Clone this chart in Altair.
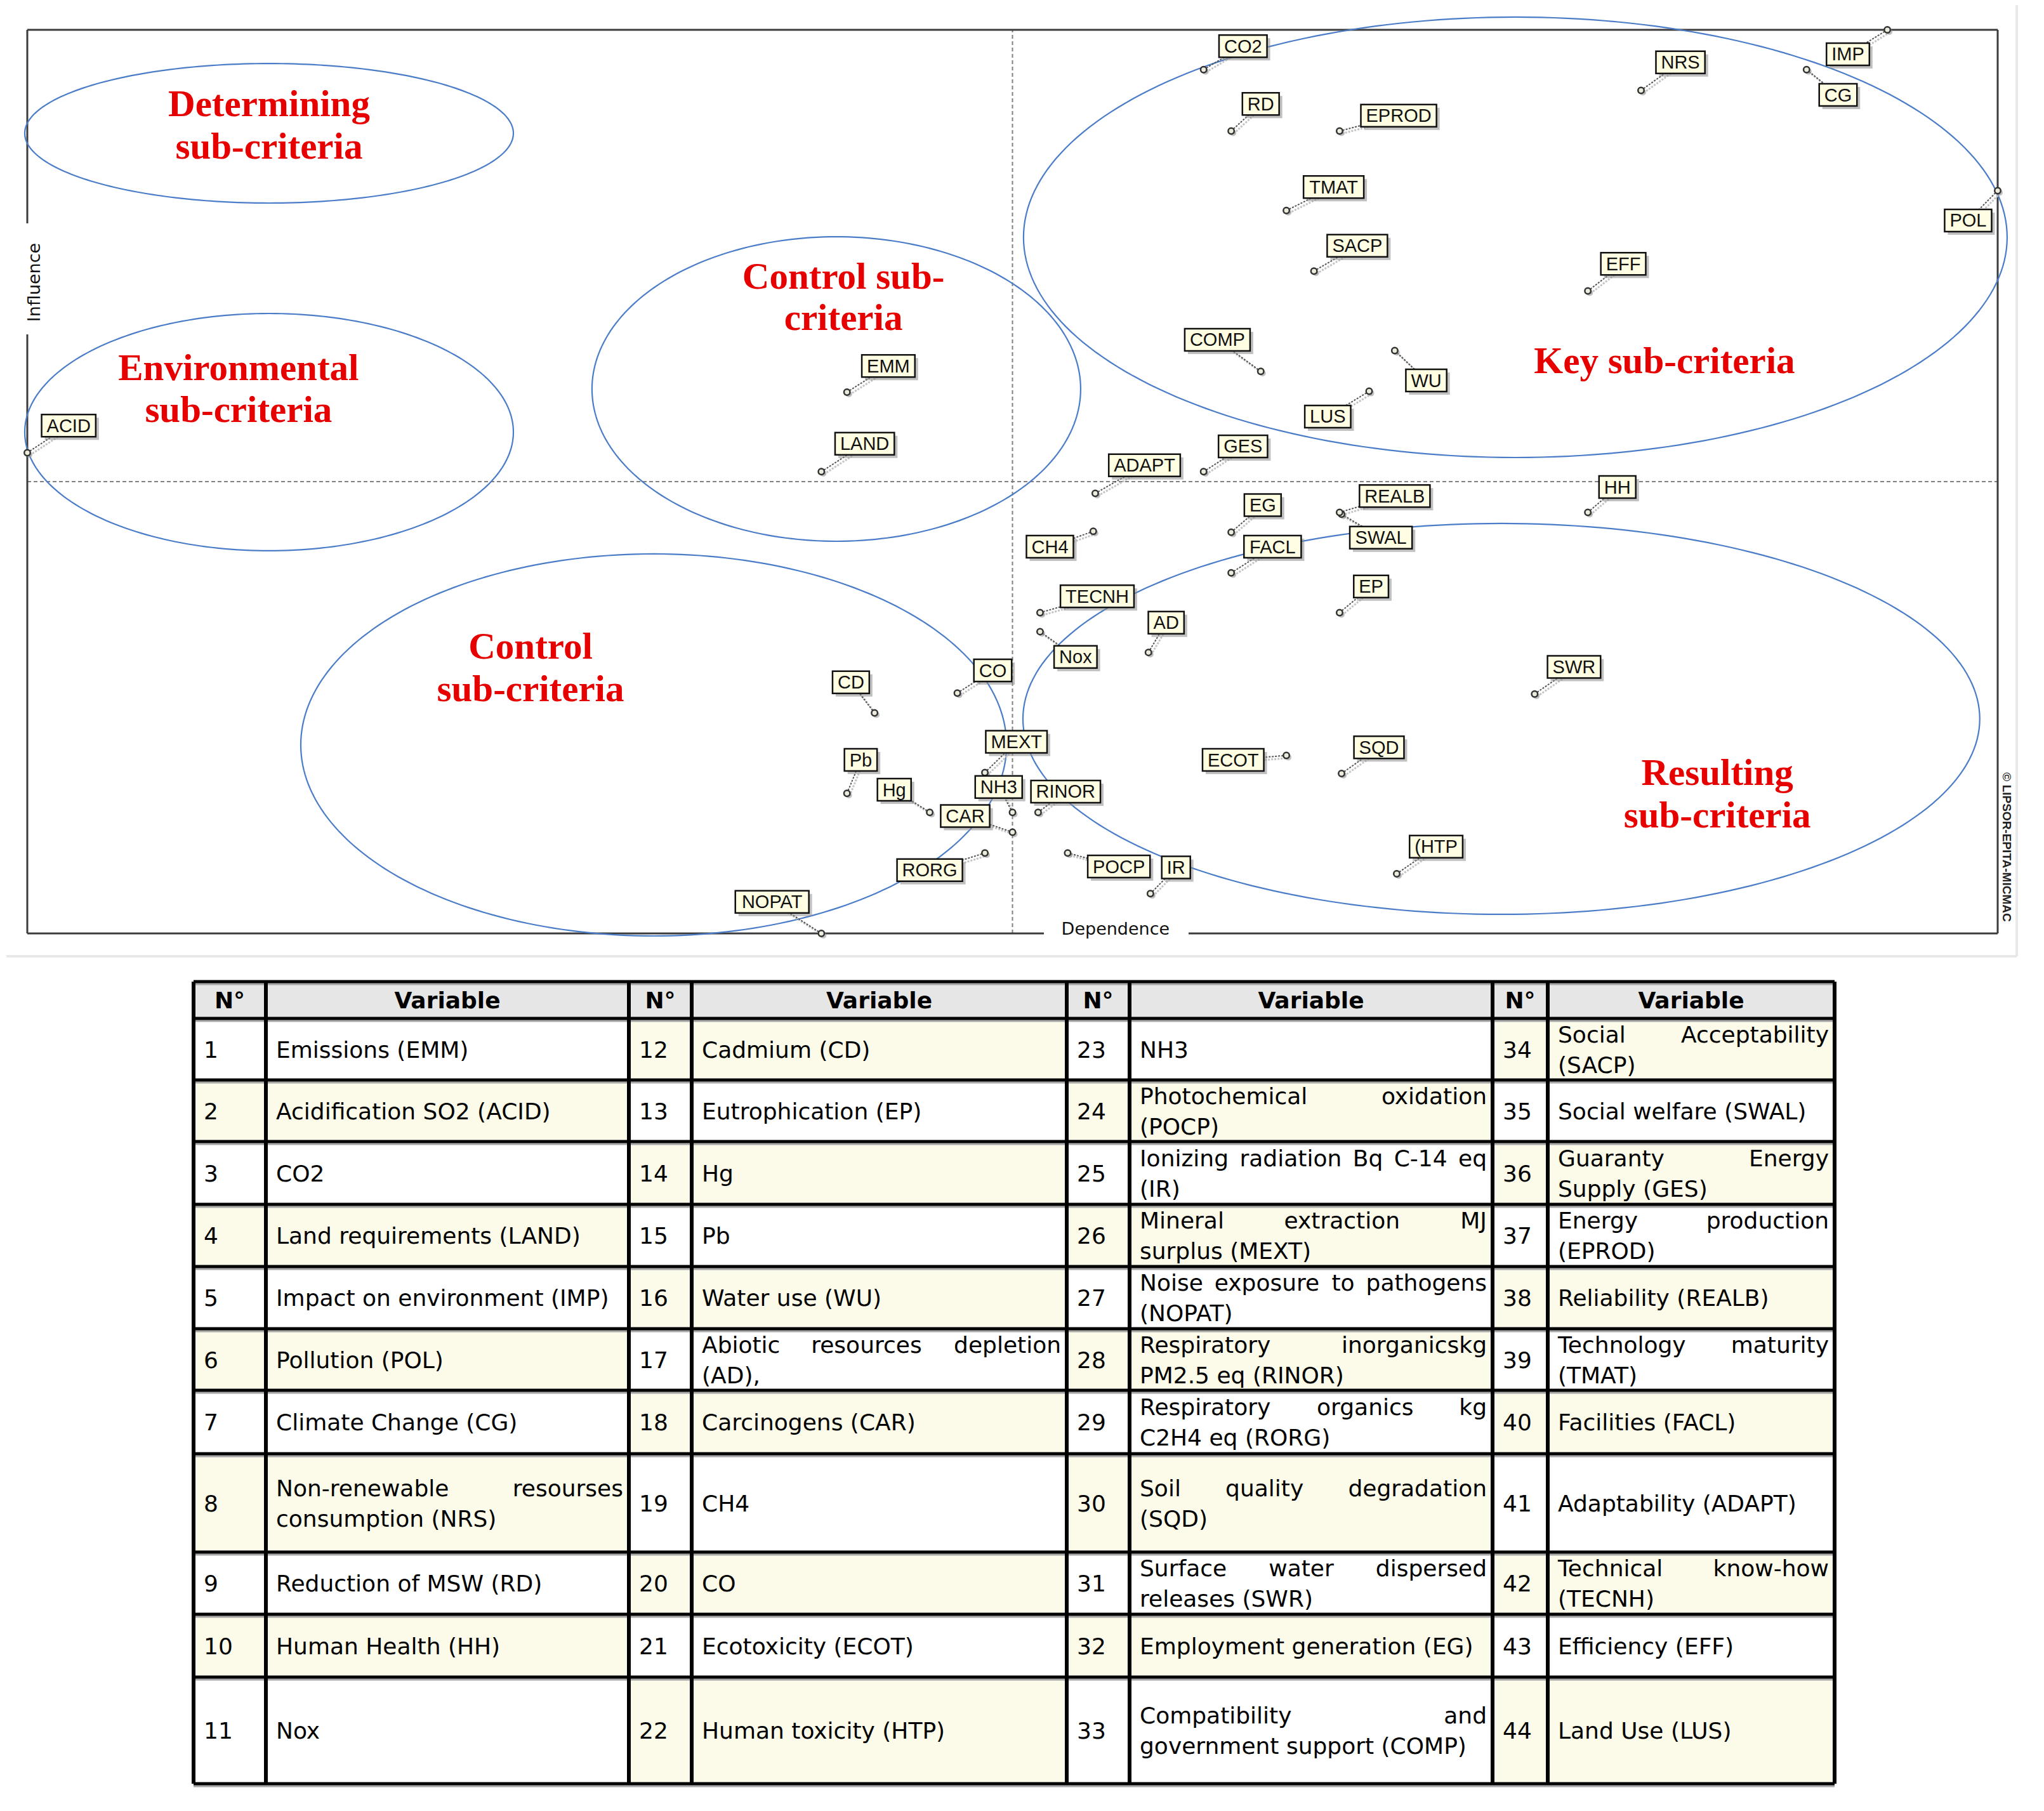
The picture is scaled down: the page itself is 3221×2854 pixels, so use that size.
import altair as alt
import numpy as np
import pandas as pd

# ---------------- MICMAC map data (0-100 scale) ----------------
codes = ["EMM", "ACID", "CO2", "LAND", "IMP", "POL", "CG", "NRS", "RD", "HH", "Nox",
         "CD", "EP", "Hg", "Pb", "WU", "AD", "CAR", "CH4", "CO", "ECOT", "(HTP",
         "NH3", "POCP", "IR", "MEXT", "NOPAT", "RINOR", "RORG", "SQD", "SWR", "EG", "COMP",
         "SACP", "SWAL", "GES", "EPROD", "REALB", "TMAT", "FACL", "ADAPT", "TECNH", "EFF", "LUS"]
dependence = [41.6, 0.0, 59.7, 40.3, 94.4, 100.0, 90.3, 81.9, 61.1, 79.2, 51.4,
              43.0, 66.6, 45.8, 41.6, 69.4, 56.9, 50.0, 54.1, 47.2, 63.9, 69.5,
              50.0, 52.8, 57.0, 48.6, 40.3, 51.3, 48.6, 66.7, 76.5, 61.1, 62.6,
              65.3, 66.7, 59.7, 66.6, 66.6, 63.9, 61.1, 54.2, 51.4, 79.2, 68.1]
influence = [59.9, 53.2, 95.6, 51.1, 100.0, 82.2, 95.6, 93.3, 88.8, 46.6, 33.4,
             24.4, 35.5, 13.4, 15.5, 64.5, 31.1, 11.2, 44.5, 26.6, 19.7, 6.6,
             13.4, 8.9, 4.4, 17.8, 0.0, 13.4, 8.9, 17.7, 26.5, 44.4, 62.2,
             73.3, 46.4, 51.1, 88.8, 46.6, 80.0, 39.9, 48.7, 35.5, 71.1, 60.0]
label_x = [43.7, 2.1, 61.7, 42.5, 92.4, 98.5, 91.9, 83.9, 62.6, 80.7, 53.2,
           41.8, 68.2, 44.0, 42.3, 71.0, 57.8, 47.6, 51.9, 49.0, 61.2, 71.5,
           49.3, 55.4, 58.3, 50.2, 37.8, 52.7, 45.8, 68.6, 78.5, 62.7, 60.4,
           67.5, 68.7, 61.7, 69.6, 69.4, 66.3, 63.2, 56.7, 54.3, 81.0, 66.0]
label_y = [62.8, 56.2, 98.2, 54.2, 97.3, 78.9, 92.8, 96.4, 91.8, 49.4, 30.6,
           27.8, 38.4, 15.9, 19.2, 61.2, 34.4, 13.0, 42.8, 29.1, 19.2, 9.6,
           16.2, 7.4, 7.3, 21.2, 3.5, 15.7, 7.0, 20.6, 29.5, 47.4, 65.7,
           76.1, 43.8, 53.9, 90.5, 48.4, 82.6, 42.8, 51.8, 37.3, 74.1, 57.2]

threshold_dep = 50
threshold_inf = 50

region_text = ["Determining", "sub-criteria", "Environmental", "sub-criteria",
               "Control sub-", "criteria", "Key sub-criteria", "Control", "sub-criteria",
               "Resulting", "sub-criteria"]
region_x = [12.27, 12.27, 10.72, 10.72, 41.42, 41.42, 83.09, 25.54, 25.54, 85.77, 85.77]
region_y = [90.45, 85.74, 61.24, 56.60, 71.35, 66.78, 62.01, 30.41, 25.70, 16.43, 11.73]

ellipse_names = ["Determining", "Environmental", "Control upper", "Key", "Control lower", "Resulting"]
ellipse_cx = [12.27, 12.27, 41.06, 75.52, 31.79, 74.81]
ellipse_cy = [88.55, 55.48, 60.25, 77.04, 20.86, 23.74]
ellipse_rx = [12.40, 12.40, 12.40, 24.96, 17.91, 24.28]
ellipse_ry = [7.72, 13.13, 16.85, 24.37, 21.14, 21.63]

# ---------------- table data ----------------
table_numbers = list(range(1, 45))
table_variables = [
    "Emissions (EMM)", "Acidification SO2 (ACID)", "CO2", "Land requirements (LAND)",
    "Impact on environment (IMP)", "Pollution (POL)", "Climate Change (CG)",
    "Non-renewable resourses\nconsumption (NRS)", "Reduction of MSW (RD)", "Human Health (HH)", "Nox",
    "Cadmium (CD)", "Eutrophication (EP)", "Hg", "Pb", "Water use (WU)",
    "Abiotic resources depletion\n(AD),", "Carcinogens (CAR)", "CH4", "CO",
    "Ecotoxicity (ECOT)", "Human toxicity (HTP)",
    "NH3", "Photochemical oxidation\n(POCP)", "Ionizing radiation Bq C-14 eq\n(IR)",
    "Mineral extraction MJ\nsurplus (MEXT)", "Noise exposure to pathogens\n(NOPAT)",
    "Respiratory inorganicskg\nPM2.5 eq (RINOR)", "Respiratory organics kg\nC2H4 eq (RORG)",
    "Soil quality degradation\n(SQD)", "Surface water dispersed\nreleases (SWR)",
    "Employment generation (EG)", "Compatibility and\ngovernment support (COMP)",
    "Social Acceptability\n(SACP)", "Social welfare (SWAL)", "Guaranty Energy\nSupply (GES)",
    "Energy production\n(EPROD)", "Reliability (REALB)", "Technology maturity\n(TMAT)",
    "Facilities (FACL)", "Adaptability (ADAPT)", "Technical know-how\n(TECNH)",
    "Efficiency (EFF)", "Land Use (LUS)",
]
header_text = ["N°", "Variable"]

# ---------------- layout constants ----------------
W, H = 3205, 2838
PX0, PX1 = 35, 3140
PY0, PY1 = 1463, 39
XU = (PX1 - PX0) / 100.0
YU = (PY0 - PY1) / 100.0

col_w = [114, 572, 99, 591, 99, 572, 87, 452]
row_h = [58, 97, 97, 99, 98, 98, 97, 100, 155, 98, 99, 168]
TX0, TY0 = 297, 1539
TW, TH = sum(col_w), sum(row_h)

ARIAL = dict(zip("ABCDEFGHIJKLMNOPQRSTUVWXYZ", [.667, .667, .722, .722, .667, .611, .778, .722, .278, .5, .667, .556, .833,
                                                  .722, .778, .667, .778, .722, .667, .611, .722, .667, .944, .667, .667, .611]))
ARIAL.update({"(": .333, ")": .333, "b": .556, "g": .556, "o": .556, "x": .5})
for d in "0123456789":
    ARIAL[d] = .556
DJV = dict(zip("ABCDEFGHIJKLMNOPQRSTUVWXYZ", [.684, .686, .698, .770, .632, .575, .775, .752, .295, .295, .656, .557, .863,
                                                .748, .787, .603, .787, .695, .635, .611, .732, .684, .989, .685, .611, .685]))
DJV.update(dict(zip("abcdefghijklmnopqrstuvwxyz", [.613, .635, .550, .635, .615, .352, .635, .634, .278, .278, .579, .278, .974,
                                                    .634, .612, .635, .635, .411, .521, .392, .634, .592, .818, .592, .592, .525])))
DJV.update({" ": .318, "(": .390, ")": .390, ",": .318, "-": .361, ".": .318, "°": .5})
for d in "0123456789":
    DJV[d] = .636


def tw(s, table, size):
    return sum(table.get(c, 0.6) for c in s) * size


# ---------------- scales ----------------
SX = alt.Scale(domain=[0, 100], range=[PX0, PX1], nice=False, zero=False)
SY = alt.Scale(domain=[0, 100], range=[PY0, PY1], nice=False, zero=False)
STX = alt.Scale(domain=[0, TW], range=[TX0, TX0 + TW], nice=False, zero=False)
STY = alt.Scale(domain=[0, TH], range=[TY0, TY0 + TH], nice=False, zero=False)


def enc_xy(chart, xf="x", yf="y", x2=None, y2=None, table=False):
    sx, sy = (STX, STY) if table else (SX, SY)
    e = dict(x=alt.X(f"{xf}:Q", scale=sx, axis=None), y=alt.Y(f"{yf}:Q", scale=sy, axis=None))
    if x2:
        e["x2"] = alt.X2(f"{x2}:Q")
    if y2:
        e["y2"] = alt.Y2(f"{y2}:Q")
    return chart.encode(**e)


# ---------------- scatter dataframes ----------------
pts = pd.DataFrame({"code": codes, "x": dependence, "y": influence, "lx": label_x, "ly": label_y})
half_w = [(tw(c, ARIAL, 29) + 16) / 2 / XU for c in codes]
half_h = 17.5 / YU
pts["bx0"] = pts["lx"] - half_w
pts["bx1"] = pts["lx"] + half_w
pts["by0"] = pts["ly"] - half_h
pts["by1"] = pts["ly"] + half_h

ell_rows = []
tt = np.linspace(0, 2 * np.pi, 241)
for n, cx, cy, rx, ry in zip(ellipse_names, ellipse_cx, ellipse_cy, ellipse_rx, ellipse_ry):
    for i, t in enumerate(tt):
        ell_rows.append({"name": n, "i": i, "x": cx + rx * np.cos(t), "y": cy + ry * np.sin(t)})
ell = pd.DataFrame(ell_rows)

regions = pd.DataFrame({"text": region_text, "x": region_x, "y": region_y})

cross = pd.DataFrame({"x": [threshold_dep, 0], "y": [0, threshold_inf],
                      "x2": [threshold_dep, 100], "y2": [100, threshold_inf]})

# frame segments (gaps around axis titles)
gap_y0, gap_y1 = (1471 - 527) / 14.24, (1471 - 352) / 14.24
gap_x0, gap_x1 = (1645 - 43) / 31.05, (1873 - 43) / 31.05
frame = pd.DataFrame({
    "x": [0, 100, 0, 0, 0, gap_x1],
    "y": [100, 0, 0, gap_y1, 0, 0],
    "x2": [100, 100, 0, 0, gap_x0, 100],
    "y2": [100, 100, gap_y0, 100, 0, 0],
})
border = pd.DataFrame({"x": [-1.06, 100.97], "y": [-2.53, -2.53], "x2": [100.97, 100.97], "y2": [-2.53, 103.3]})

axis_titles = pd.DataFrame({"text": ["Influence"], "x": [0.64], "y": [72.05]})
dep_title = pd.DataFrame({"text": ["Dependence"], "x": [55.23], "y": [-0.14]})
copyright_df = pd.DataFrame({"text": ["© LIPSOR-EPITA-MICMAC"], "x": [100.26], "y": [9.55]})

layers = []
layers.append(enc_xy(alt.Chart(border).mark_rule(color="#e8e8e8", strokeWidth=4), x2="x2", y2="y2"))
layers.append(enc_xy(alt.Chart(cross).mark_rule(color="#808080", strokeWidth=2, strokeDash=[6, 4]), x2="x2", y2="y2"))
layers.append(enc_xy(alt.Chart(frame).mark_rule(color="#3c3c3c", strokeWidth=3), x2="x2", y2="y2"))
layers.append(enc_xy(alt.Chart(ell).mark_line(color="#4a7cc8", strokeWidth=2.2)).encode(
    detail="name:N", order="i:Q"))
layers.append(enc_xy(alt.Chart(regions).mark_text(font="Liberation Serif", fontWeight="bold", fontSize=59,
                                                   color="#e60000", align="center", baseline="alphabetic")).encode(
    text="text:N"))
# leaders
layers.append(enc_xy(alt.Chart(pts).mark_rule(color="#c4c4c4", strokeWidth=3, strokeDash=[3, 2],
                                              xOffset=4, yOffset=4, x2Offset=4, y2Offset=4),
                     x2="lx", y2="ly"))
layers.append(enc_xy(alt.Chart(pts).mark_rule(color="#555555", strokeWidth=2, strokeDash=[3, 2]),
                     x2="lx", y2="ly"))
# points
layers.append(enc_xy(alt.Chart(pts).mark_point(shape="circle", filled=True, color="#9a9a9a", opacity=0.6,
                                               size=100, xOffset=3, yOffset=3)))
layers.append(enc_xy(alt.Chart(pts).mark_point(shape="circle", filled=True, fill="#ecebdc", stroke="#333333",
                                               strokeWidth=2.5, size=90, opacity=1)))
# label boxes
layers.append(enc_xy(alt.Chart(pts).mark_rect(color="#8c8c8c", opacity=0.55, xOffset=5, x2Offset=5,
                                              yOffset=5, y2Offset=5), xf="bx0", yf="by0", x2="bx1", y2="by1"))
layers.append(enc_xy(alt.Chart(pts).mark_rect(fill="#fffde2", stroke="#111111", strokeWidth=2.5),
                     xf="bx0", yf="by0", x2="bx1", y2="by1"))
layers.append(enc_xy(alt.Chart(pts).mark_text(font="Liberation Sans", fontSize=29, color="#111111",
                                              align="center", baseline="middle", dy=1),
                     xf="lx", yf="ly").encode(text="code:N"))
# axis titles
layers.append(enc_xy(alt.Chart(axis_titles).mark_text(font="DejaVu Sans", fontSize=27, color="#111111",
                                                      angle=270, align="center", baseline="alphabetic")).encode(
    text="text:N"))
layers.append(enc_xy(alt.Chart(dep_title).mark_text(font="DejaVu Sans", fontSize=27, color="#111111",
                                                    align="center", baseline="alphabetic")).encode(text="text:N"))
layers.append(enc_xy(alt.Chart(copyright_df).mark_text(font="Liberation Sans", fontWeight="bold", fontSize=19,
                                                       color="#222222", angle=90, align="center",
                                                       baseline="alphabetic")).encode(text="text:N"))

# ---------------- table dataframes ----------------
col_edges = np.concatenate([[0], np.cumsum(col_w)])
row_edges = np.concatenate([[0], np.cumsum(row_h)])
FS = 36
cells, texts_l, texts_r, texts_c = [], [], [], []
for k in range(8):
    cells.append({"x": col_edges[k], "x2": col_edges[k + 1], "y": 0, "y2": row_h[0], "fill": "#e6e6e6"})
    texts_c.append({"x": (col_edges[k] + col_edges[k + 1]) / 2, "y": row_h[0] / 2 + 13,
                    "text": header_text[k % 2]})
for idx, (num, var) in enumerate(zip(table_numbers, table_variables)):
    c, r = divmod(idx, 11)
    fill = "#ffffff" if (r + c) % 2 == 0 else "#fcfbea"
    y0, y1 = row_edges[r + 1], row_edges[r + 2]
    cy = (y0 + y1) / 2
    for k in (2 * c, 2 * c + 1):
        cells.append({"x": col_edges[k], "x2": col_edges[k + 1], "y": y0, "y2": y1, "fill": fill})
    texts_l.append({"x": col_edges[2 * c] + 16, "y": cy + 13, "text": str(num)})
    xl, xr = col_edges[2 * c + 1] + 16, col_edges[2 * c + 2] - 9
    lines = var.split("\n")
    if len(lines) == 1:
        texts_l.append({"x": xl, "y": cy + 13, "text": lines[0]})
    else:
        ya, yb = cy + 13 - 24, cy + 13 + 24
        words = lines[0].split(" ")
        ws = [tw(w, DJV, FS) for w in words]
        gap = (xr - xl - sum(ws)) / (len(words) - 1)
        pos = xl
        for i, (w, wd) in enumerate(zip(words, ws)):
            if i == len(words) - 1:
                texts_r.append({"x": xr, "y": ya, "text": w})
            else:
                texts_l.append({"x": pos, "y": ya, "text": w})
            pos += wd + gap
        texts_l.append({"x": xl, "y": yb, "text": lines[1]})

cells = pd.DataFrame(cells)
hl = pd.DataFrame({"x": [0] * len(row_edges), "x2": [TW] * len(row_edges), "y": row_edges, "y2": row_edges})
vl = pd.DataFrame({"x": col_edges, "x2": col_edges, "y": [0] * len(col_edges), "y2": [TH] * len(col_edges)})

layers.append(enc_xy(alt.Chart(cells).mark_rect(), x2="x2", y2="y2", table=True).encode(
    fill=alt.Fill("fill:N", scale=None)))
layers.append(enc_xy(alt.Chart(hl).mark_rule(color="#a8a8a8", strokeWidth=3, yOffset=4, y2Offset=4),
                     x2="x2", y2="y2", table=True))
layers.append(enc_xy(alt.Chart(hl).mark_rule(color="#000000", strokeWidth=5), x2="x2", y2="y2", table=True))
layers.append(enc_xy(alt.Chart(vl).mark_rule(color="#000000", strokeWidth=6), x2="x2", y2="y2", table=True))
layers.append(enc_xy(alt.Chart(pd.DataFrame(texts_c)).mark_text(font="DejaVu Sans", fontWeight="bold", fontSize=FS,
                                                                 color="#000000", align="center",
                                                                 baseline="alphabetic"),
                     table=True).encode(text="text:N"))
layers.append(enc_xy(alt.Chart(pd.DataFrame(texts_l)).mark_text(font="DejaVu Sans", fontSize=FS, color="#000000",
                                                                 align="left", baseline="alphabetic"),
                     table=True).encode(text="text:N"))
layers.append(enc_xy(alt.Chart(pd.DataFrame(texts_r)).mark_text(font="DejaVu Sans", fontSize=FS, color="#000000",
                                                                 align="right", baseline="alphabetic"),
                     table=True).encode(text="text:N"))

chart = alt.layer(*layers).resolve_scale(x="independent", y="independent").properties(
    width=W, height=H, padding=0, autosize=alt.AutoSizeParams(type="none"), background="white"
).configure_view(stroke=None)

chart.save("out.html", embed_options={"renderer": "svg", "actions": False})
